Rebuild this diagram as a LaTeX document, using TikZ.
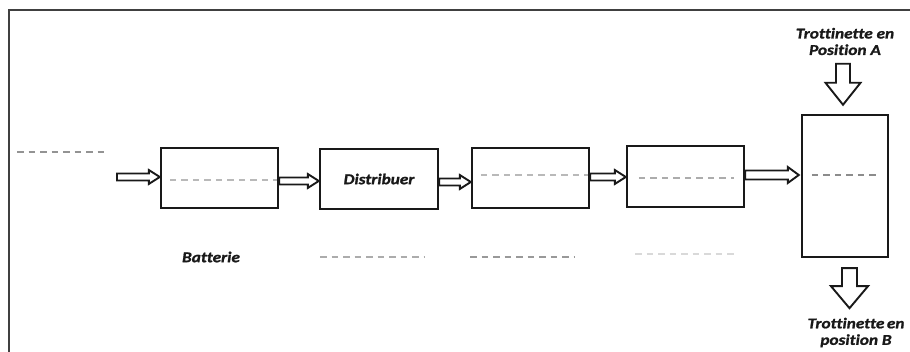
\documentclass[tikz,border=0pt]{standalone}
\usepackage{fontspec}
\setmainfont{Carlito}
\newfontfamily\lblfont[FakeStretch=1.15,FakeBold=1.2,Ligatures=NoCommon]{Carlito}
\usetikzlibrary{calc}
\newcommand\harrow[4]{%
  \draw[harr] let \p1=(#1), \p2=(#2) in
   (\x1,\y2+#3) -- (\x2-11pt,\y2+#3) -- (\x2-11pt,\y2+#4) -- (\x2,\y2)
   -- (\x2-11pt,\y2-#4) -- (\x2-11pt,\y2-#3) -- (\x1,\y2-#3) -- cycle;}
\newcommand\varrow[4]{%
  \draw[harr] let \p1=(#1), \p2=(#2) in
   (\x2+#3,\y1) -- (\x2+#3,\y2+22pt) -- (\x2+#4,\y2+22pt) -- (\x2,\y2)
   -- (\x2-#4,\y2+22pt) -- (\x2-#3,\y2+22pt) -- (\x2-#3,\y1) -- cycle;}
\begin{document}
\begin{tikzpicture}[x=1pt,y=-1pt,
  blk/.style={draw=black!90,line width=2.4pt,minimum width=117pt,minimum height=60pt,inner sep=0pt},
  dsh/.style={draw=gray!70,line width=1.4pt,dash pattern=on 6.5pt off 5pt},
  harr/.style={draw=black!90,line width=1.9pt,fill=white,line join=miter},
  lbl/.style={font=\lblfont\bfseries\itshape\fontsize{15}{16.5}\selectfont,inner sep=0pt,text=black!90},
  frame/.style={draw=black!75,line width=2pt}]
\useasboundingbox (0,0) rectangle (910,352);
% frame
\draw[frame] (9,360) -- (9,10) -- (915,10);
% boxes
\node[blk] (b1) at (219.5,178) {};
\node[blk,lbl,draw=black!90,line width=2.4pt,minimum width=118pt,minimum height=60pt] (b2) at (379,179) {Distribuer};
\node[blk] (b3) at (530.5,178) {};
\node[blk,minimum height=61pt] (b4) at (685.5,176.5) {};
\node[blk,minimum width=86pt,minimum height=142pt] (b5) at (845,186) {};
% dashed lines inside boxes
\draw[dsh,draw=gray!55] ($(b1.west)+(10,2)$) -- ($(b1.east)+(-2,2)$);
\draw[dsh,draw=gray!55] ($(b3.west)+(10,-3)$) -- ($(b3.east)+(-2,-3)$);
\draw[dsh,draw=gray!65] ($(b4.west)+(13,1.5)$) -- ($(b4.east)+(-11,1.5)$);
\draw[dsh,draw=gray!90] ($(b5.west)+(11,-11)$) -- ($(b5.east)+(-10,-11)$);
% outer dashed lines
\coordinate (dl1) at (17,152);
\coordinate (dl2) at (108,152);
\draw[dsh,draw=gray!85] (dl1) -- (dl2);
\node[lbl] (bat) at (211,257) {Batterie};
\coordinate (u1a) at (320,257); \coordinate (u1b) at (425,257);
\coordinate (u2a) at (470,257); \coordinate (u2b) at (575,257);
\coordinate (u3a) at (635,254); \coordinate (u3b) at (737,254);
\draw[dsh,draw=gray!65] (u1a) -- (u1b);
\draw[dsh,draw=gray!80] (u2a) -- (u2b);
\draw[dsh,draw=gray!30] (u3a) -- (u3b);
% horizontal hollow arrows
\coordinate (in) at (117,177);
\harrow{in}{$(b1.west)+(0,-1)$}{3.5pt}{7pt}
\harrow{b1.east}{$(b2.west)+(0,2)$}{3.5pt}{7pt}
\harrow{b2.east}{$(b3.west)+(0,4)$}{3.5pt}{7pt}
\harrow{b3.east}{$(b4.west)+(0,0.5)$}{3.5pt}{7pt}
\harrow{b4.east}{$(b5.west)+(-2,-11)$}{4.5pt}{8pt}
% vertical hollow arrows
\varrow{$(b5.north)+(-2,-50)$}{$(b5.north)+(-2,-9)$}{7pt}{17.5pt}
\varrow{$(b5.south)+(4.5,10)$}{$(b5.south)+(4.5,50)$}{7.5pt}{18.5pt}
% labels
\node[lbl,align=center] (tA) at (845,41.5) {Trottinette en\\Position A};
\node[lbl,align=center] (tB) at (856,332.5) {Trottinette\,en\\position B};
\end{tikzpicture}
\end{document}
